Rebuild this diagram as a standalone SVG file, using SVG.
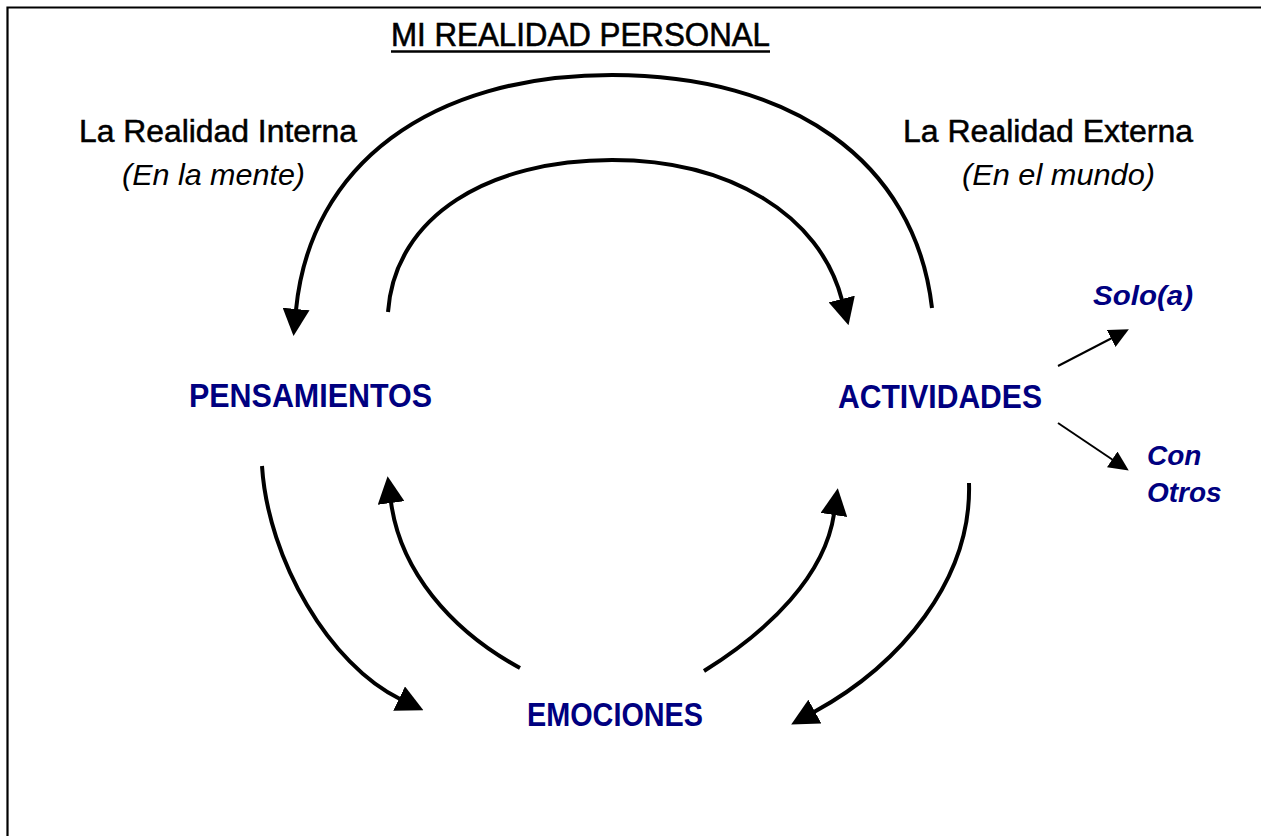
<svg xmlns="http://www.w3.org/2000/svg" width="1261" height="836" viewBox="0 0 1261 836">
<style>
  .bg { fill: #ffffff; }
  .frame { fill: none; stroke: #000; stroke-width: 2.2; }
  .big { fill: none; stroke: #000; stroke-width: 4; marker-end: url(#headBig); }
  .small { fill: none; stroke: #000; stroke-width: 2; marker-end: url(#headSmall); }
  .title { font-family: "Liberation Sans", Arial, sans-serif; font-size: 33px; fill: #000; stroke: #000; stroke-width: 0.6; }
  .head { font-family: "Liberation Sans", Arial, sans-serif; font-size: 31px; fill: #000; stroke: #000; stroke-width: 0.5; }
  .sub { font-family: "Liberation Sans", Arial, sans-serif; font-size: 30px; font-style: italic; fill: #000; }
  .node { font-family: "Liberation Sans", Arial, sans-serif; font-size: 33px; font-weight: bold; fill: #000080; }
  .leaf { font-family: "Liberation Sans", Arial, sans-serif; font-size: 28px; font-weight: bold; font-style: italic; fill: #000080; }
</style>
<defs>
  <marker id="headBig" markerUnits="userSpaceOnUse" viewBox="0 0 27 27" markerWidth="27" markerHeight="27" refX="1" refY="13.5" orient="auto">
    <path d="M0,0 L27,13.5 L0,27 z" fill="#000"/>
  </marker>
  <marker id="headSmall" markerUnits="userSpaceOnUse" viewBox="0 0 20 19" markerWidth="20" markerHeight="19" refX="1" refY="9.5" orient="auto">
    <path d="M0,0 L20,9.5 L0,19 z" fill="#000"/>
  </marker>
</defs>
<rect class="bg" x="0" y="0" width="1261" height="836"/>
<path class="frame" d="M7.5 836 V7.5 H1261"/>

<g id="title">
  <text class="title" x="391" y="46" textLength="379" lengthAdjust="spacingAndGlyphs">MI REALIDAD PERSONAL</text>
  <line x1="391" y1="51.5" x2="770" y2="51.5" stroke="#000" stroke-width="2.5"/>
</g>

<g id="realidad-interna">
  <text class="head" x="79" y="142" textLength="278" lengthAdjust="spacingAndGlyphs">La Realidad Interna</text>
  <text class="sub" x="122" y="185" textLength="183" lengthAdjust="spacingAndGlyphs">(En la mente)</text>
</g>

<g id="realidad-externa">
  <text class="head" x="903" y="142" textLength="290" lengthAdjust="spacingAndGlyphs">La Realidad Externa</text>
  <text class="sub" x="962" y="185" textLength="193" lengthAdjust="spacingAndGlyphs">(En el mundo)</text>
</g>

<g id="pensamientos">
  <text class="node" x="189" y="407" textLength="243" lengthAdjust="spacingAndGlyphs">PENSAMIENTOS</text>
</g>

<g id="actividades">
  <text class="node" x="838" y="408" textLength="204" lengthAdjust="spacingAndGlyphs">ACTIVIDADES</text>
</g>

<g id="emociones">
  <text class="node" x="527" y="726" textLength="176" lengthAdjust="spacingAndGlyphs">EMOCIONES</text>
</g>

<g id="solo">
  <text class="leaf" x="1093" y="305" textLength="100" lengthAdjust="spacingAndGlyphs">Solo(a)</text>
</g>

<g id="con-otros">
  <text class="leaf" x="1147" y="465">Con</text>
  <text class="leaf" x="1147" y="502">Otros</text>
</g>

<g id="connectors">
  <path class="big" d="M932 308 C915 160 790 75 612 75 C430 75 310 165 296 310"/>
  <path class="big" d="M388 312 C395 215 490 160 612 160 C730 160 820 215 842 300"/>
  <path class="big" d="M262 466 C268 560 330 665 400 699"/>
  <path class="big" d="M520 668 C450 630 400 570 391 502"/>
  <path class="big" d="M704 671 C770 630 825 575 834 514"/>
  <path class="big" d="M969 483 C972 580 900 665 814 712"/>
  <path class="small" d="M1058 366 L1112 338"/>
  <path class="small" d="M1058 423 L1113 460"/>
</g>
</svg>
